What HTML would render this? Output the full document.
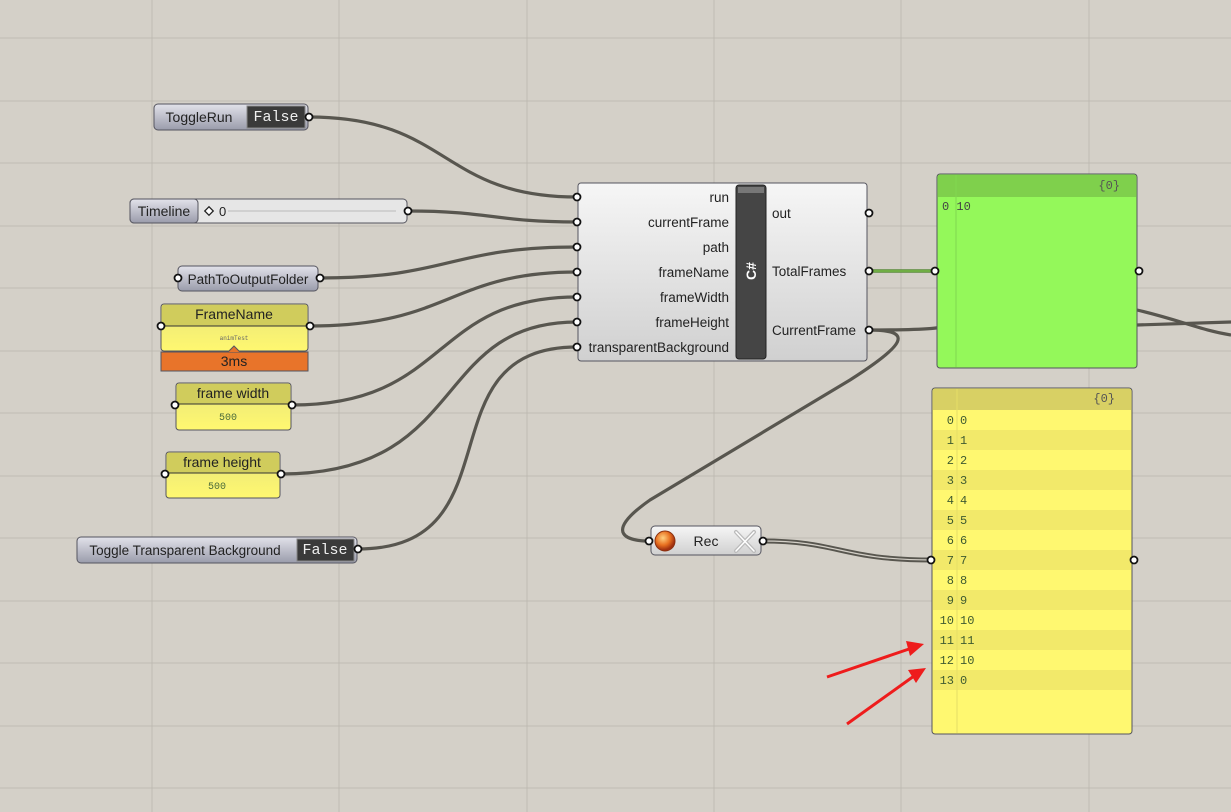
<!DOCTYPE html>
<html><head><meta charset="utf-8"><style>
html,body{margin:0;padding:0;background:#d4d0c8;width:1231px;height:812px;overflow:hidden}
svg{display:block}
text{font-family:"Liberation Sans",sans-serif}
text.m,.m text{font-family:"Liberation Mono",monospace}
</style></head><body>
<svg width="1231" height="812" viewBox="0 0 1231 812" xmlns="http://www.w3.org/2000/svg">
<defs>
<linearGradient id="gb" x1="0" y1="0" x2="0" y2="1"><stop offset="0" stop-color="#e2e2ea"/><stop offset="1" stop-color="#9a9cab"/></linearGradient>
<linearGradient id="gw" x1="0" y1="0" x2="0" y2="1"><stop offset="0" stop-color="#f6f6f6"/><stop offset="1" stop-color="#d0d0d0"/></linearGradient>
<linearGradient id="gy" x1="0" y1="0" x2="0" y2="1"><stop offset="0" stop-color="#e8e47a"/><stop offset="1" stop-color="#fff870"/></linearGradient>
<radialGradient id="rb" cx="0.4" cy="0.35" r="0.6"><stop offset="0" stop-color="#ffd080"/><stop offset="0.6" stop-color="#e87020"/><stop offset="1" stop-color="#a03010"/></radialGradient>
</defs>
<g stroke="#bfbbb3" stroke-width="1">
<line x1="152" y1="0" x2="152" y2="812"/><line x1="339" y1="0" x2="339" y2="812"/><line x1="527" y1="0" x2="527" y2="812"/><line x1="714" y1="0" x2="714" y2="812"/><line x1="901" y1="0" x2="901" y2="812"/><line x1="1089" y1="0" x2="1089" y2="812"/>
<line x1="0" y1="38" x2="1231" y2="38"/><line x1="0" y1="101" x2="1231" y2="101"/><line x1="0" y1="163" x2="1231" y2="163"/><line x1="0" y1="226" x2="1231" y2="226"/><line x1="0" y1="288" x2="1231" y2="288"/><line x1="0" y1="351" x2="1231" y2="351"/><line x1="0" y1="413" x2="1231" y2="413"/><line x1="0" y1="476" x2="1231" y2="476"/><line x1="0" y1="538" x2="1231" y2="538"/><line x1="0" y1="601" x2="1231" y2="601"/><line x1="0" y1="663" x2="1231" y2="663"/><line x1="0" y1="726" x2="1231" y2="726"/><line x1="0" y1="788" x2="1231" y2="788"/>
</g>
<g fill="none" stroke="#58564f" stroke-width="3.2">
<path d="M309 117 C450 117 440 197 577 197"/>
<path d="M408 211 C490 211 495 222 577 222"/>
<path d="M320 278 C450 278 450 247 577 247"/>
<path d="M310 326 C450 326 450 272 577 272"/>
<path d="M292 405 C450 405 430 297 577 297"/>
<path d="M281 474 C470 474 430 322 577 322"/>
<path d="M358 549 C520 549 420 347 577 347"/>
<path d="M869 330 C940 330 940 327 940 327"/>
<path d="M869 330 C915 330 905 345 850 380 L650 500 C600 535 630 541 649 541"/>
<path d="M1137 310 C1180 320 1200 330 1231 335"/>
<path d="M1137 325 L1231 322"/>
</g>
<path d="M869 271 L935 271" stroke="#5a8a3a" stroke-width="3.5"/>
<path d="M869 271 L935 271" stroke="#7cc24a" stroke-width="1.2"/>
<path d="M762 541 C840 541 840 560 933 560" fill="none" stroke="#58564f" stroke-width="5"/>
<path d="M762 541 C840 541 840 560 933 560" fill="none" stroke="#d4d0c8" stroke-width="1.2"/>
<rect x="154" y="104" width="154" height="26" rx="4" fill="url(#gb)" stroke="#55555f"/>
<text x="199" y="122" font-size="14" text-anchor="middle" fill="#222">ToggleRun</text>
<rect x="247" y="106" width="58" height="22" fill="#3a3a3a" stroke="#888"/>
<text x="276" y="121" class="m" font-size="15" text-anchor="middle" fill="#eee">False</text>
<rect x="130" y="199" width="277" height="24" rx="4" fill="#e6e6e6" stroke="#55555f"/>
<rect x="130" y="199" width="68" height="24" rx="4" fill="url(#gb)" stroke="#55555f"/>
<text x="164" y="216" font-size="14" text-anchor="middle" fill="#222">Timeline</text>
<rect x="206" y="208" width="6" height="6" transform="rotate(45 209 211)" fill="#fff" stroke="#222" stroke-width="1.3"/>
<text x="219" y="216" font-size="13" fill="#222">0</text>
<line x1="228" y1="211" x2="396" y2="211" stroke="#bbb"/>
<rect x="178" y="266" width="140" height="25" rx="4" fill="url(#gb)" stroke="#55555f"/>
<text x="248" y="284" font-size="13.5" text-anchor="middle" fill="#222">PathToOutputFolder</text>
<rect x="161" y="304" width="147" height="47" rx="3" fill="url(#gy)" stroke="#55555f"/>
<rect x="162" y="305" width="145" height="21" fill="#d0cc5c"/>
<line x1="162" y1="326" x2="307" y2="326" stroke="#333"/>
<text x="234" y="319" font-size="14" text-anchor="middle" fill="#222">FrameName</text>
<text x="234" y="340" font-size="6" class="m" text-anchor="middle" fill="#666">animTest</text>
<rect x="161" y="352" width="147" height="19" fill="#e8742a" stroke="#55555f"/>
<path d="M228 352 L234 346 L240 352" fill="#e8742a" stroke="#55555f"/>
<text x="234" y="366" font-size="14" text-anchor="middle" fill="#222">3ms</text>
<rect x="176" y="383" width="115" height="47" rx="3" fill="url(#gy)" stroke="#55555f"/>
<rect x="177" y="384" width="113" height="20" fill="#d0cc5c"/>
<line x1="177" y1="404" x2="290" y2="404" stroke="#333"/>
<text x="233" y="398" font-size="14" text-anchor="middle" fill="#222">frame width</text>
<text x="228" y="420" font-size="10" class="m" text-anchor="middle" fill="#4a6a3a">500</text>
<rect x="166" y="452" width="114" height="46" rx="3" fill="url(#gy)" stroke="#55555f"/>
<rect x="167" y="453" width="112" height="20" fill="#d0cc5c"/>
<line x1="167" y1="473" x2="279" y2="473" stroke="#333"/>
<text x="222" y="467" font-size="14" text-anchor="middle" fill="#222">frame height</text>
<text x="217" y="489" font-size="10" class="m" text-anchor="middle" fill="#4a6a3a">500</text>
<rect x="77" y="537" width="280" height="26" rx="4" fill="url(#gb)" stroke="#55555f"/>
<text x="185" y="555" font-size="13.5" text-anchor="middle" fill="#222">Toggle Transparent Background</text>
<rect x="297" y="539" width="57" height="22" fill="#3a3a3a" stroke="#888"/>
<text x="325" y="554" class="m" font-size="15" text-anchor="middle" fill="#eee">False</text>
<rect x="578" y="183" width="289" height="178" rx="3" fill="url(#gw)" stroke="#55555f"/>
<rect x="736" y="185" width="30" height="174" rx="3" fill="#454545" stroke="#222"/>
<rect x="738" y="187" width="26" height="6" fill="#777"/>
<text transform="translate(756 271) rotate(-90)" font-size="14" font-weight="bold" fill="#fff" text-anchor="middle">C#</text>
<g font-size="13.5" fill="#222" text-anchor="end">
<text x="729" y="202">run</text><text x="729" y="227">currentFrame</text><text x="729" y="252">path</text><text x="729" y="277">frameName</text><text x="729" y="302">frameWidth</text><text x="729" y="327">frameHeight</text><text x="729" y="352">transparentBackground</text>
</g>
<g font-size="13.5" fill="#222"><text x="772" y="218">out</text><text x="772" y="276">TotalFrames</text><text x="772" y="335">CurrentFrame</text></g>
<rect x="937" y="174" width="200" height="194" rx="3" fill="#94f85a" stroke="#55555f"/>
<rect x="938" y="175" width="198" height="22" fill="#7fd04c"/>
<line x1="956" y1="175" x2="956" y2="367" stroke="#80d850"/>
<text x="1120" y="189" class="m" font-size="12" text-anchor="end" fill="#555">{0}</text>
<text x="942" y="210" class="m" font-size="12" fill="#444">0 10</text>
<rect x="932" y="388" width="200" height="346" rx="3" fill="#fff870" stroke="#55555f"/>
<rect x="933" y="389" width="198" height="21" fill="#d8d064"/>
<g fill="#f2e96a">
<rect x="933" y="430" width="198" height="20"/><rect x="933" y="470" width="198" height="20"/><rect x="933" y="510" width="198" height="20"/><rect x="933" y="550" width="198" height="20"/><rect x="933" y="590" width="198" height="20"/><rect x="933" y="630" width="198" height="20"/><rect x="933" y="670" width="198" height="20"/>
</g>
<line x1="957" y1="389" x2="957" y2="733" stroke="#e6de66"/>
<text x="1115" y="402" class="m" font-size="12" text-anchor="end" fill="#555">{0}</text>
<g class="m" font-size="12" fill="#3e5a30">
<text x="954" y="424" text-anchor="end">0</text><text x="960" y="424">0</text>
<text x="954" y="444" text-anchor="end">1</text><text x="960" y="444">1</text>
<text x="954" y="464" text-anchor="end">2</text><text x="960" y="464">2</text>
<text x="954" y="484" text-anchor="end">3</text><text x="960" y="484">3</text>
<text x="954" y="504" text-anchor="end">4</text><text x="960" y="504">4</text>
<text x="954" y="524" text-anchor="end">5</text><text x="960" y="524">5</text>
<text x="954" y="544" text-anchor="end">6</text><text x="960" y="544">6</text>
<text x="954" y="564" text-anchor="end">7</text><text x="960" y="564">7</text>
<text x="954" y="584" text-anchor="end">8</text><text x="960" y="584">8</text>
<text x="954" y="604" text-anchor="end">9</text><text x="960" y="604">9</text>
<text x="954" y="624" text-anchor="end">10</text><text x="960" y="624">10</text>
<text x="954" y="644" text-anchor="end">11</text><text x="960" y="644">11</text>
<text x="954" y="664" text-anchor="end">12</text><text x="960" y="664">10</text>
<text x="954" y="684" text-anchor="end">13</text><text x="960" y="684">0</text>
</g>
<rect x="651" y="526" width="110" height="29" rx="4" fill="url(#gw)" stroke="#55555f"/>
<circle cx="665" cy="541" r="10" fill="url(#rb)" stroke="#8a3010"/>
<text x="706" y="546" font-size="14" text-anchor="middle" fill="#222">Rec</text>
<g stroke="#bbb" stroke-width="4" stroke-linecap="round"><line x1="736" y1="532" x2="754" y2="551"/><line x1="754" y1="532" x2="736" y2="551"/></g>
<g stroke="#fff" stroke-width="1.5" stroke-linecap="round"><line x1="736" y1="532" x2="754" y2="551"/><line x1="754" y1="532" x2="736" y2="551"/></g>
<g fill="#fff" stroke="#111" stroke-width="1.8">
<circle cx="309" cy="117" r="3.5"/><circle cx="408" cy="211" r="3.5"/><circle cx="178" cy="278" r="3.5"/><circle cx="320" cy="278" r="3.5"/>
<circle cx="161" cy="326" r="3.5"/><circle cx="310" cy="326" r="3.5"/><circle cx="175" cy="405" r="3.5"/><circle cx="292" cy="405" r="3.5"/>
<circle cx="165" cy="474" r="3.5"/><circle cx="281" cy="474" r="3.5"/><circle cx="358" cy="549" r="3.5"/>
<circle cx="577" cy="197" r="3.5"/><circle cx="577" cy="222" r="3.5"/><circle cx="577" cy="247" r="3.5"/><circle cx="577" cy="272" r="3.5"/><circle cx="577" cy="297" r="3.5"/><circle cx="577" cy="322" r="3.5"/><circle cx="577" cy="347" r="3.5"/>
<circle cx="869" cy="213" r="3.5"/><circle cx="869" cy="271" r="3.5"/><circle cx="869" cy="330" r="3.5"/>
<circle cx="935" cy="271" r="3.5"/><circle cx="1139" cy="271" r="3.5"/>
<circle cx="649" cy="541" r="3.5"/><circle cx="763" cy="541" r="3.5"/>
<circle cx="931" cy="560" r="3.5"/><circle cx="1134" cy="560" r="3.5"/>
</g>
<g stroke="#ee1c1c" stroke-width="3" fill="#ee1c1c">
<line x1="827" y1="677" x2="912" y2="648"/>
<polygon points="924,644 906,641 910,656" stroke="none"/>
<line x1="847" y1="724" x2="914" y2="676"/>
<polygon points="926,668 908,670 916,683" stroke="none"/>
</g>
</svg>
</body></html>
